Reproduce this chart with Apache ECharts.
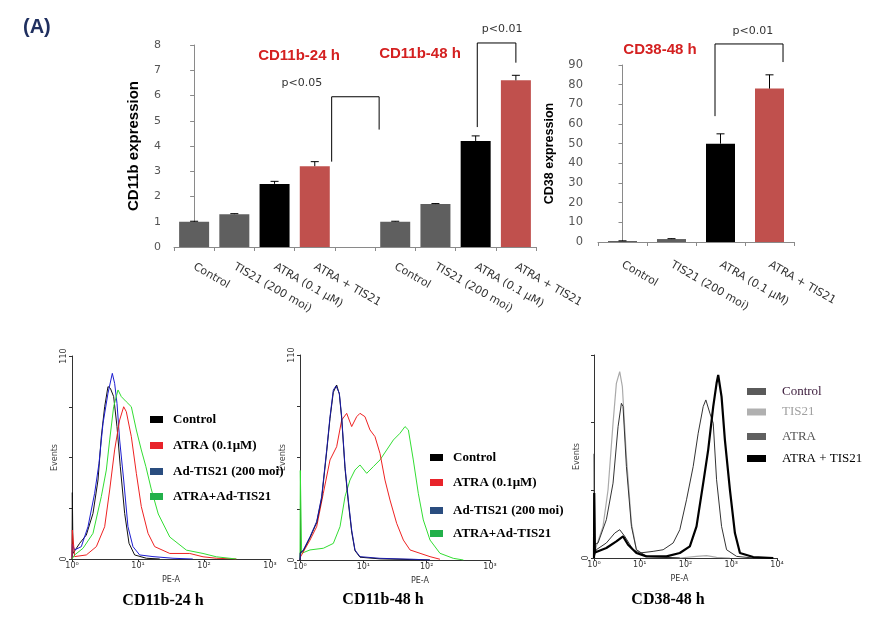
<!DOCTYPE html>
<html><head><meta charset="utf-8">
<script src="https://cdn.jsdelivr.net/npm/echarts@6.0.0/dist/echarts.min.js"></script>
<style>html,body{margin:0;padding:0;background:#fff}#c{width:882px;height:617px}</style>
</head><body><div id="c"></div>
<script>
// ---------- DATA ----------
const cd11bCategories = ['Control', 'TIS21 (200 moi)', 'ATRA (0.1 μM)', 'ATRA + TIS21', '', 'Control', 'TIS21 (200 moi)', 'ATRA (0.1 μM)', 'ATRA + TIS21'];
const cd11bValues = [1.0, 1.3, 2.5, 3.2, null, 1.0, 1.7, 4.2, 6.6];
const cd11bErrors = [0.02, 0.02, 0.1, 0.18, null, 0.02, 0.02, 0.2, 0.2];
const cd11bBracketLeftX = [3.42, 7.04];
const cd11bBracketRightX = [4.6, 8.0];
const cd11bBracketTop = [5.95, 8.08];
const cd11bBracketLeftEnd = [3.38, 4.75];
const cd11bBracketRightEnd = [4.65, 7.3];
const cd11bPLabels = ['p<0.05', 'p<0.01'];
const cd11bPLabelX = [2.68, 7.66];
const cd11bPLabelY = [6.5, 8.63];

const cd38Categories = ['Control', 'TIS21 (200 moi)', 'ATRA (0.1 μM)', 'ATRA + TIS21'];
const cd38Values = [0.5, 1.5, 50, 78];
const cd38Errors = [0.1, 0.2, 5, 7];
const cd38BracketLeftX = [1.888];
const cd38BracketRightX = [3.276];
const cd38BracketTop = [100.7];
const cd38BracketLeftEnd = [64];
const cd38BracketRightEnd = [91.5];
const cd38PLabels = ['p<0.01'];
const cd38PLabelX = [2.66];
const cd38PLabelY = [107.3];

// flow histograms: [log10(PE-A), events]
const h24Control = [[0,0],[0.005,36],[0.015,3],[0.116,8.5],[0.217,13],[0.318,24.7],[0.394,42.8],[0.444,66.3],[0.495,82.5],[0.545,93.4],[0.581,92.5],[0.631,88],[0.682,71.7],[0.732,50],[0.798,24.7],[0.864,8.5],[0.949,2.2],[1.126,0.4],[1.33,0]];
const h24Atra = [[0,0],[0.005,15.7],[0.04,1.3],[0.217,2.2],[0.369,6.7],[0.495,17.5],[0.571,37.4],[0.646,59.1],[0.722,75.3],[0.783,82.5],[0.823,79.8],[0.899,66.3],[0.975,46.4],[1.05,28.4],[1.152,13.9],[1.253,6.7],[1.482,3.0],[1.784,3.0],[1.985,1.2],[2.186,0.4],[2.49,0]];
const h24Tis = [[0,0],[0.005,8],[0.04,4.9],[0.141,6.7],[0.242,17.5],[0.343,35.6],[0.409,51.8],[0.47,73.5],[0.545,89.8],[0.611,100.6],[0.646,95.2],[0.682,84.3],[0.722,64.5],[0.783,42.8],[0.848,17.5],[0.924,6.7],[1.025,2.2],[1.227,1.3],[1.53,0.4],[1.83,0]];
const h24Combo = [[0,0],[0.04,2.2],[0.167,5.8],[0.318,13.9],[0.444,33.8],[0.52,48.2],[0.571,64.5],[0.631,82.5],[0.697,91.6],[0.747,88],[0.823,85.2],[0.899,82.5],[0.975,69.9],[1.05,59.1],[1.12,50],[1.2,38],[1.307,24.4],[1.482,11.9],[1.734,4.8],[1.985,3.0],[2.186,1.2],[2.49,0]];

const h48Control = [[0,0],[0.005,4],[0.053,5],[0.158,12],[0.263,20],[0.342,33],[0.421,58],[0.474,76],[0.526,90],[0.579,93.9],[0.621,89],[0.658,76],[0.711,49],[0.763,31],[0.816,15],[0.868,5],[0.947,1.5],[1.263,0.6],[2.05,0]];
const h48Tis = [[0,0],[0.005,3.6],[0.053,5.4],[0.158,12.5],[0.263,20.6],[0.342,34],[0.421,59],[0.474,76.9],[0.526,91.2],[0.568,93.4],[0.621,89.5],[0.658,76.9],[0.711,50.1],[0.763,32.2],[0.816,16.1],[0.868,5.4],[0.947,1.8],[1.263,0.9],[1.79,0.4],[2.05,0]];
const h48Atra = [[0,0],[0.01,1.8],[0.158,10.7],[0.263,17.9],[0.368,35.8],[0.474,53.7],[0.579,60.8],[0.658,75.1],[0.737,78.7],[0.816,71.6],[0.895,76.9],[0.947,78.7],[1.026,76.9],[1.105,69.8],[1.184,66.2],[1.263,57.2],[1.342,42.9],[1.421,32.2],[1.526,19.7],[1.632,10.7],[1.737,5.4],[1.895,3.6],[2.053,1.8],[2.21,0.4]];
const h48Combo = [[0,0],[0.005,48],[0.026,3.6],[0.158,5.4],[0.368,6.3],[0.526,8.9],[0.632,17.9],[0.711,34],[0.789,42.9],[0.868,48.3],[0.947,51],[1.053,46.5],[1.158,50.1],[1.263,53.7],[1.368,59],[1.474,64.4],[1.579,68],[1.658,71.6],[1.711,69.8],[1.789,53.7],[1.868,35.8],[1.947,21.5],[2.053,10.7],[2.21,3.6],[2.42,0.9],[2.58,0]];

const c38Control = [[0,0],[0.005,77],[0.02,10],[0.088,11.1],[0.27,28.3],[0.416,55.3],[0.526,97.1],[0.599,114.3],[0.635,111.9],[0.708,67.6],[0.818,23.4],[0.927,6.1],[1.146,1.2],[1.876,0]];
const c38Tis = [[0,0],[0.05,8.6],[0.197,23.4],[0.307,50.4],[0.416,99.6],[0.489,129],[0.562,137.7],[0.62,126.6],[0.708,75],[0.818,25.8],[0.927,6.1],[1.146,1.2],[1.876,0],[2.241,1.2],[2.46,1.7],[2.68,0.5],[2.97,0]];
const c38Atra = [[0,0],[0.05,6.1],[0.27,11.1],[0.453,18.4],[0.562,20.9],[0.672,16],[0.854,6.1],[1.0,3.7],[1.292,4.9],[1.511,6.1],[1.73,11.1],[1.876,20.9],[2.022,43],[2.168,67.6],[2.277,92.2],[2.387,111.9],[2.445,116.8],[2.533,107],[2.606,99.6],[2.679,57.8],[2.788,23.4],[2.898,6.1],[3.117,1.2],[3.48,0]];
const c38Combo = [[0,0],[0.005,48],[0.02,4],[0.05,3.7],[0.27,7.4],[0.489,12.3],[0.635,16],[0.745,9.8],[0.927,3.7],[1.146,1.2],[1.584,1.2],[1.876,3.7],[2.095,8.6],[2.241,23.4],[2.387,55.3],[2.496,79.9],[2.606,111.9],[2.679,129.1],[2.715,135.2],[2.788,119.3],[2.861,87.3],[2.971,50.4],[3.08,18.4],[3.19,3.7],[3.48,0.7],[3.92,0]];

const histLabels24 = ['Control', 'ATRA (0.1μM)', 'Ad-TIS21 (200 moi)', 'ATRA+Ad-TIS21'];
const histLabels38 = ['Control', 'TIS21', 'ATRA', 'ATRA + TIS21'];
const supDigits = ['⁰', '¹', '²', '³', '⁴'];

// ---------- CHART ----------
const chart = echarts.init(document.getElementById('c'), null, {width: 882, height: 617});
const AX = '#8a8a8a';
const SANS = '"DejaVu Sans", sans-serif';
const ARIAL = '"Liberation Sans", Arial, sans-serif';
const SERIF = '"Liberation Serif", "Times New Roman", serif';

function barColor(name) {
  if (name.indexOf('ATRA +') === 0) return '#c0504d';
  if (name.indexOf('ATRA') === 0) return '#000000';
  return '#5f5f5f';
}
function errRender(params, api) {
  const i = api.value(0), v = api.value(1), e = api.value(2);
  const b = api.coord([i, v]), t = api.coord([i, v + e]);
  const cap = 4;
  return {type: 'group', children: [
    {type: 'line', shape: {x1: b[0], y1: b[1], x2: t[0], y2: t[1]}, style: {stroke: '#000', lineWidth: 1}},
    {type: 'line', shape: {x1: t[0] - cap, y1: t[1], x2: t[0] + cap, y2: t[1]}, style: {stroke: '#000', lineWidth: 1}}
  ]};
}
function bracketRender(labels) {
  return function (params, api) {
    const lx = api.value(0), rx = api.value(1), top = api.value(2), le = api.value(3), re = api.value(4);
    const tx = api.value(5), ty = api.value(6);
    const pts = [api.coord([lx, le]), api.coord([lx, top]), api.coord([rx, top]), api.coord([rx, re])];
    const t = api.coord([tx, ty]);
    return {type: 'group', children: [
      {type: 'polyline', shape: {points: pts}, style: {stroke: '#000', lineWidth: 1, fill: 'none'}},
      {type: 'text', x: t[0], y: t[1], style: {text: labels[params.dataIndex], fill: '#333', font: '11px ' + SANS, align: 'center', verticalAlign: 'middle'}}
    ]};
  };
}
function errData(vals, errs) {
  const out = [];
  vals.forEach((v, i) => { if (v != null) out.push([i, v, errs[i]]); });
  return out;
}
function bracketData(l, r, top, le, re, tx, ty) {
  return l.map((v, i) => [v, r[i], top[i], le[i], re[i], tx[i], ty[i]]);
}

const barCatAxis = (grid, data, margin) => ({
  type: 'category', gridIndex: grid, data: data,
  axisLine: {lineStyle: {color: AX}}, axisTick: {show: true, length: 4, lineStyle: {color: AX}},
  axisLabel: {interval: 0, rotate: -30, margin: margin, fontFamily: SANS, fontSize: 11, color: '#333'}
});
const hiddenVal = (grid, n) => ({type: 'value', gridIndex: grid, min: -0.5, max: n - 0.5, show: false});
const histX = (grid, maxDec, pad) => ({
  type: 'value', gridIndex: grid, min: 0, max: maxDec, interval: 1,
  name: 'PE-A', nameLocation: 'middle', nameGap: 17,
  nameTextStyle: {fontFamily: SANS, fontSize: 8, color: '#333', padding: pad},
  axisLine: {lineStyle: {color: '#333'}}, axisTick: {show: true, length: 3, lineStyle: {color: '#333'}},
  splitLine: {show: false},
  axisLabel: {fontFamily: SANS, fontSize: 8, color: '#333', margin: 3, formatter: v => '10' + supDigits[v]}
});
const histY = (grid, max, interval, showTop) => ({
  type: 'value', gridIndex: grid, min: 0, max: max, interval: interval,
  name: 'Events', nameLocation: 'middle', nameGap: 11,
  nameTextStyle: {fontFamily: SANS, fontSize: 8, color: '#444'},
  axisLine: {show: true, lineStyle: {color: '#333'}}, axisTick: {show: true, length: 3, lineStyle: {color: '#333'}},
  splitLine: {show: false},
  axisLabel: {rotate: 90, fontFamily: SANS, fontSize: 8, color: '#333', margin: 4,
    formatter: v => (v === 0 || (showTop && v === max)) ? String(v) : ''}
});
const lineS = (name, x, y, data, color, w) => ({
  name: name, type: 'line', xAxisIndex: x, yAxisIndex: y, data: data, showSymbol: false, symbol: 'none',
  color: color, lineStyle: {color: color, width: w || 1}, z: 3
});
const legendItem = (name, text, left, cy, iw, iconColor, textColor, weight, gap) => ({
  data: [name], left: left, top: cy - 11, itemWidth: iw, itemHeight: 7, icon: 'rect',
  selectedMode: false, itemStyle: {color: iconColor}, formatter: () => text,
  textStyle: {fontFamily: SERIF, fontSize: 13, fontWeight: weight, color: textColor, padding: [0, 0, 0, gap]}
});

const option = {
  animation: false,
  backgroundColor: '#fff',
  grid: [
    {left: 174, top: 45, width: 362, height: 202},
    {left: 598, top: 65, width: 196, height: 177},
    {left: 72, top: 356, width: 198, height: 203},
    {left: 300, top: 355, width: 190, height: 205},
    {left: 594, top: 355, width: 183, height: 203}
  ],
  xAxis: [
    barCatAxis(0, cd11bCategories, 19),
    hiddenVal(0, cd11bCategories.length),
    barCatAxis(1, cd38Categories, 22),
    hiddenVal(1, cd38Categories.length),
    histX(2, 3, [0, 0, 0, 0]),
    histX(3, 3, [0, 0, 0, 50]),
    histX(4, 4, [0, 12, 0, 0])
  ],
  yAxis: [
    {type: 'value', gridIndex: 0, min: 0, max: 8, interval: 1,
      name: 'CD11b expression', nameLocation: 'middle', nameGap: 33,
      nameTextStyle: {fontFamily: ARIAL, fontSize: 15, fontWeight: 'bold', color: '#000'},
      axisLine: {show: true, lineStyle: {color: AX}}, axisTick: {show: true, length: 4, lineStyle: {color: AX}},
      splitLine: {show: false}, axisLabel: {fontFamily: SANS, fontSize: 11, color: '#555', margin: 13}},
    {type: 'value', gridIndex: 1, min: 0, max: 90, interval: 10,
      name: 'CD38 expression', nameLocation: 'middle', nameGap: 42,
      nameTextStyle: {fontFamily: ARIAL, fontSize: 12.5, fontWeight: 'bold', color: '#000'},
      axisLine: {show: true, lineStyle: {color: AX}}, axisTick: {show: true, length: 4, lineStyle: {color: AX}},
      splitLine: {show: false}, axisLabel: {fontFamily: SANS, fontSize: 11.5, color: '#555', margin: 15}},
    histY(2, 110, 27.5, true),
    histY(3, 110, 27.5, true),
    histY(4, 150, 50, false)
  ],
  legend: [
    legendItem('p1 Control', histLabels24[0], 145, 419, 13, '#000000', '#000', 'bold', 5),
    legendItem('p1 ATRA', histLabels24[1], 145, 445, 13, '#e8232a', '#000', 'bold', 5),
    legendItem('p1 TIS21', histLabels24[2], 145, 471, 13, '#2a4d7f', '#000', 'bold', 5),
    legendItem('p1 Combo', histLabels24[3], 145, 496, 13, '#22b04a', '#000', 'bold', 5),
    legendItem('p2 Control', histLabels24[0], 425, 457, 13, '#000000', '#000', 'bold', 5),
    legendItem('p2 ATRA', histLabels24[1], 425, 482, 13, '#e8232a', '#000', 'bold', 5),
    legendItem('p2 TIS21', histLabels24[2], 425, 510, 13, '#2a4d7f', '#000', 'bold', 5),
    legendItem('p2 Combo', histLabels24[3], 425, 533, 13, '#22b04a', '#000', 'bold', 5),
    legendItem('p3 Control', histLabels38[0], 742, 391, 19, '#5a5a5a', '#3a1a3a', 'normal', 11),
    legendItem('p3 TIS21', histLabels38[1], 742, 411.5, 19, '#b0b0b0', '#a0a0a0', 'normal', 11),
    legendItem('p3 ATRA', histLabels38[2], 742, 436, 19, '#606060', '#555', 'normal', 11),
    legendItem('p3 Combo', histLabels38[3], 742, 458, 19, '#000000', '#000', 'normal', 11)
  ],
  graphic: [
    {type: 'text', x: 23, y: 27, style: {text: '(A)', font: 'bold 20px ' + ARIAL, fill: '#1f2f5f', verticalAlign: 'middle'}},
    {type: 'text', x: 299, y: 56, style: {text: 'CD11b-24 h', font: 'bold 15px ' + ARIAL, fill: '#d42020', align: 'center', verticalAlign: 'middle'}},
    {type: 'text', x: 420, y: 54, style: {text: 'CD11b-48 h', font: 'bold 15px ' + ARIAL, fill: '#d42020', align: 'center', verticalAlign: 'middle'}},
    {type: 'text', x: 660, y: 50, style: {text: 'CD38-48 h', font: 'bold 15px ' + ARIAL, fill: '#d42020', align: 'center', verticalAlign: 'middle'}},
    {type: 'text', x: 163, y: 601, style: {text: 'CD11b-24 h', font: 'bold 16px ' + SERIF, fill: '#000', align: 'center', verticalAlign: 'middle'}},
    {type: 'text', x: 383, y: 600, style: {text: 'CD11b-48 h', font: 'bold 16px ' + SERIF, fill: '#000', align: 'center', verticalAlign: 'middle'}},
    {type: 'text', x: 668, y: 600, style: {text: 'CD38-48 h', font: 'bold 16px ' + SERIF, fill: '#000', align: 'center', verticalAlign: 'middle'}}
  ],
  series: [
    {type: 'bar', xAxisIndex: 0, yAxisIndex: 0, barWidth: 30,
      data: cd11bValues.map(v => v == null ? '-' : v),
      itemStyle: {color: p => barColor(cd11bCategories[p.dataIndex])}},
    {type: 'custom', xAxisIndex: 0, yAxisIndex: 0, renderItem: errRender, data: errData(cd11bValues, cd11bErrors), encode: {x: 0, y: 1}, z: 4},
    {type: 'custom', xAxisIndex: 1, yAxisIndex: 0, renderItem: bracketRender(cd11bPLabels),
      data: bracketData(cd11bBracketLeftX, cd11bBracketRightX, cd11bBracketTop, cd11bBracketLeftEnd, cd11bBracketRightEnd, cd11bPLabelX, cd11bPLabelY),
      encode: {x: 0, y: 2}, clip: false, z: 4},
    {type: 'bar', xAxisIndex: 2, yAxisIndex: 1, barWidth: 29,
      data: cd38Values,
      itemStyle: {color: p => barColor(cd38Categories[p.dataIndex])}},
    {type: 'custom', xAxisIndex: 2, yAxisIndex: 1, renderItem: errRender, data: errData(cd38Values, cd38Errors), encode: {x: 0, y: 1}, z: 4},
    {type: 'custom', xAxisIndex: 3, yAxisIndex: 1, renderItem: bracketRender(cd38PLabels),
      data: bracketData(cd38BracketLeftX, cd38BracketRightX, cd38BracketTop, cd38BracketLeftEnd, cd38BracketRightEnd, cd38PLabelX, cd38PLabelY),
      encode: {x: 0, y: 2}, clip: false, z: 4},

    lineS('p1 Control', 4, 2, h24Control, '#111111'),
    lineS('p1 TIS21', 4, 2, h24Tis, '#1c1cd0'),
    lineS('p1 ATRA', 4, 2, h24Atra, '#ee2222'),
    lineS('p1 Combo', 4, 2, h24Combo, '#33dd33'),

    lineS('p2 Combo', 5, 3, h48Combo, '#33dd33'),
    lineS('p2 ATRA', 5, 3, h48Atra, '#ee2222'),
    lineS('p2 Control', 5, 3, h48Control, '#111111'),
    lineS('p2 TIS21', 5, 3, h48Tis, '#1a1aa8'),

    lineS('p3 TIS21', 6, 4, c38Tis, '#aaaaaa', 1.2),
    lineS('p3 Control', 6, 4, c38Control, '#333333', 1),
    lineS('p3 ATRA', 6, 4, c38Atra, '#333333', 1),
    lineS('p3 Combo', 6, 4, c38Combo, '#000000', 2.2)
  ]
};
chart.setOption(option);
</script>
</body></html>
